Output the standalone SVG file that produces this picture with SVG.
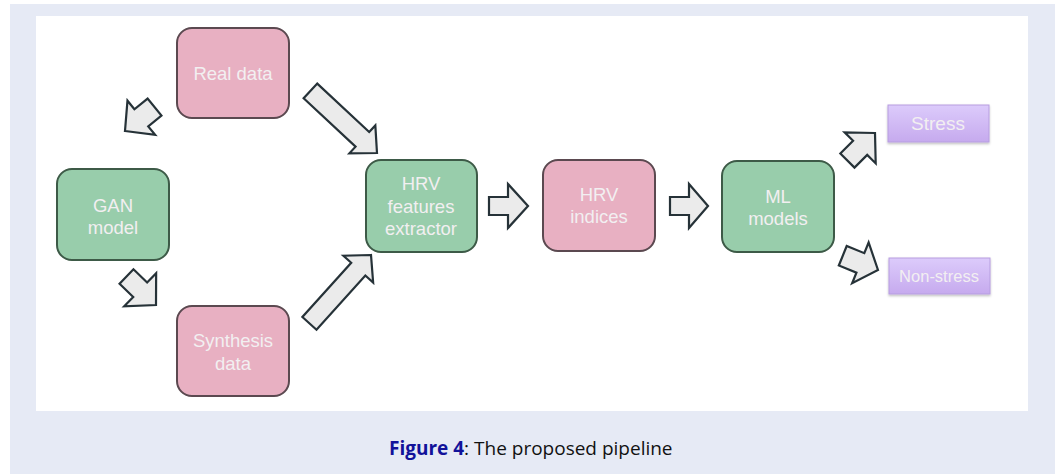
<svg xmlns="http://www.w3.org/2000/svg" width="1060" height="474" viewBox="0 0 1060 474">
<defs>
<linearGradient id="pg" x1="0" y1="0" x2="0" y2="1">
<stop offset="0" stop-color="#dccbfb"/>
<stop offset="1" stop-color="#c6aaee"/>
</linearGradient>
<filter id="sh" x="-10%" y="-20%" width="120%" height="150%">
<feDropShadow dx="0" dy="1.5" stdDeviation="1" flood-color="#000" flood-opacity="0.25"/>
</filter>
</defs>
<style>
.pink{fill:#e8b0c2;stroke:#5b4950;stroke-width:2}
.green{fill:#98cdab;stroke:#3d5a47;stroke-width:2}
.purp{fill:url(#pg);stroke:#b79ee0;stroke-width:1}
.t{font-family:"Liberation Sans",Arial,sans-serif;font-size:18.5px;fill:#f2eff1;text-anchor:middle}
.ts{font-size:16.5px}
.tm{font-size:19px}
.arr{fill:#ebebeb;stroke:#263238;stroke-width:2.2;stroke-linejoin:miter}
.cap{font-family:"Open Sans","Noto Sans",sans-serif;font-size:19px;fill:#111}
</style>
<rect x="10" y="4" width="1045" height="470" fill="#e6eaf5"/>
<rect x="36" y="16" width="992" height="395" fill="#ffffff"/>

<g id="connectors">
<polygon class="arr" transform="translate(125,131) rotate(141)" points="0,0 -21,-22 -21,-11 -38,-11 -38,11 -21,11 -21,22"/>
<polygon class="arr" transform="translate(377,153) rotate(43)" points="0,0 -20,-19 -20,-10 -91,-10 -91,10 -20,10 -20,19"/>
<polygon class="arr" transform="translate(371,255) rotate(-48)" points="0,0 -19,-20 -19,-9.5 -92,-9.5 -92,9.5 -19,9.5 -19,20"/>
<polygon class="arr" transform="translate(156,305) rotate(44)" points="0,0 -22,-23 -22,-10 -41,-10 -41,10 -22,10 -22,23"/>
<polygon class="arr" transform="translate(528,206) rotate(0)" points="0,0 -20,-22 -20,-9 -39,-9 -39,9 -20,9 -20,22"/>
<polygon class="arr" transform="translate(708,206) rotate(0)" points="0,0 -19,-22 -19,-9 -38,-9 -38,9 -19,9 -19,22"/>
<polygon class="arr" transform="translate(875,133) rotate(-45)" points="0,0 -21,-22 -21,-10 -39,-10 -39,10 -21,10 -21,22"/>
<polygon class="arr" transform="translate(878,270) rotate(22)" points="0,0 -19,-22 -19,-10.5 -38,-10.5 -38,10.5 -19,10.5 -19,22"/>
</g>

<g id="real-data">
<rect class="pink" x="177" y="28" width="112" height="90" rx="15"/>
<text class="t" x="233" y="80">Real data</text>
</g>
<g id="gan-model">
<rect class="green" x="57" y="169" width="112" height="91" rx="15"/>
<text class="t" x="113" y="212">GAN</text>
<text class="t" x="113" y="234">model</text>
</g>
<g id="synthesis-data">
<rect class="pink" x="177" y="306" width="112" height="90" rx="15"/>
<text class="t" x="233" y="347">Synthesis</text>
<text class="t" x="233" y="370">data</text>
</g>
<g id="hrv-features">
<rect class="green" x="366" y="160" width="111" height="92" rx="15"/>
<text class="t" x="421" y="190">HRV</text>
<text class="t" x="421" y="213">features</text>
<text class="t" x="421" y="235">extractor</text>
</g>
<g id="hrv-indices">
<rect class="pink" x="543" y="160" width="112" height="91" rx="15"/>
<text class="t" x="599" y="201">HRV</text>
<text class="t" x="599" y="223">indices</text>
</g>
<g id="ml-models">
<rect class="green" x="722" y="161" width="112" height="91" rx="15"/>
<text class="t" x="778" y="203">ML</text>
<text class="t" x="778" y="225">models</text>
</g>
<g id="stress">
<rect class="purp" x="888" y="105" width="101" height="37" filter="url(#sh)"/>
<text class="t tm" x="938" y="130">Stress</text>
</g>
<g id="non-stress">
<rect class="purp" x="889" y="258" width="101" height="36" filter="url(#sh)"/>
<text class="t ts" x="939" y="282">Non-stress</text>
</g>

<g id="caption">
<text class="cap" x="389" y="455"><tspan font-weight="bold" fill="#12129a">Figure 4</tspan>: The proposed pipeline</text>
</g>
</svg>
